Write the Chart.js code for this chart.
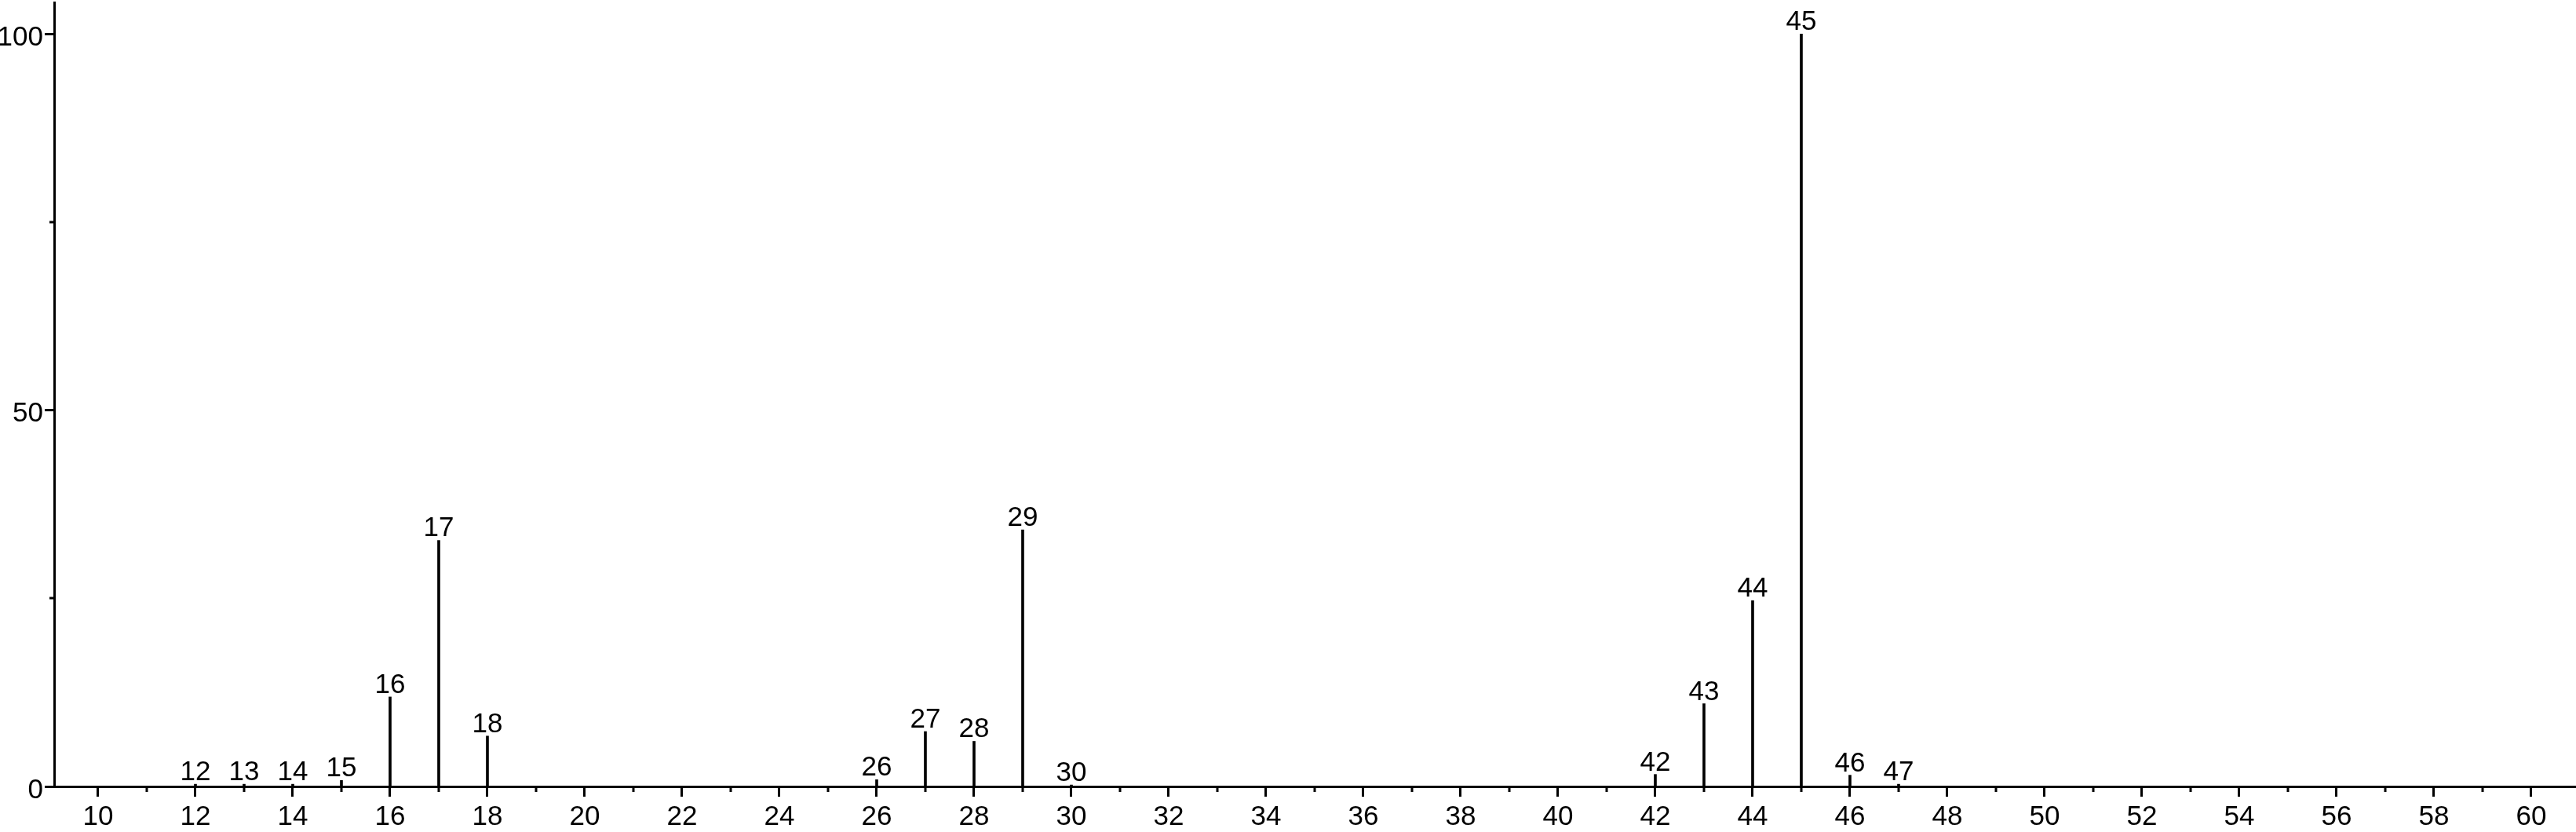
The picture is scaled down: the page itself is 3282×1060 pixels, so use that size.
<!DOCTYPE html>
<html>
<head>
<meta charset="utf-8">
<script src="https://cdn.jsdelivr.net/npm/chart.js@4"></script>
<style>
  html, body { margin: 0; padding: 0; background: #fff; }
  canvas { display: block; }
</style>
</head>
<body>
<canvas id="spectrum" width="3282" height="1060"></canvas>
<script>
// m/z values and relative intensities
const mz = [12, 13, 14, 15, 16, 17, 18, 26, 27, 28, 29, 30, 42, 43, 44, 45, 46, 47];
const intensity = [0.3, 0.3, 0.3, 0.8, 11.9, 32.7, 6.7, 0.9, 7.3, 6.0, 34.1, 0.2, 1.6, 11.0, 24.7, 100, 1.5, 0.3];

// small unlabelled ticks
const xMinorTicks = [11, 13, 15, 17, 19, 21, 23, 25, 27, 29, 31, 33, 35, 37, 39, 41, 43, 45, 47, 49, 51, 53, 55, 57, 59];
const yMinorTicks = [25, 75];

const fontFamily = '"Liberation Sans", Arial, Helvetica, sans-serif';

const minorTicks = {
  id: 'minorTicks',
  afterDraw(chart) {
    const ctx = chart.ctx;
    const x = chart.scales.x;
    const y = chart.scales.y;
    ctx.save();
    ctx.strokeStyle = '#000';
    ctx.lineWidth = 3;
    ctx.beginPath();
    xMinorTicks.forEach(v => {
      const px = Math.round(x.getPixelForValue(v));
      ctx.moveTo(px, y.bottom);
      ctx.lineTo(px, y.bottom + 7);
    });
    yMinorTicks.forEach(v => {
      const py = Math.round(y.getPixelForValue(v));
      ctx.moveTo(x.left, py);
      ctx.lineTo(x.left - 6, py);
    });
    ctx.stroke();
    ctx.restore();
  }
};

const peakLabels = {
  id: 'peakLabels',
  afterDatasetsDraw(chart) {
    const ctx = chart.ctx;
    const meta = chart.getDatasetMeta(0);
    ctx.save();
    ctx.fillStyle = '#000';
    ctx.font = '35px ' + fontFamily;
    ctx.textAlign = 'center';
    ctx.textBaseline = 'alphabetic';
    meta.data.forEach((bar, i) => {
      ctx.fillText(String(mz[i]), bar.x, bar.y - 5);
    });
    ctx.restore();
  }
};

new Chart(document.getElementById('spectrum'), {
  type: 'bar',
  data: {
    datasets: [{
      data: mz.map((m, i) => ({ x: m, y: intensity[i] })),
      backgroundColor: '#000',
      borderWidth: 0,
      barThickness: 3
    }]
  },
  options: {
    responsive: false,
    animation: false,
    layout: { padding: { top: 3, left: 0, right: 0, bottom: 0 } },
    plugins: {
      legend: { display: false },
      tooltip: { enabled: false }
    },
    scales: {
      x: {
        type: 'linear',
        min: 9.097,
        max: 60.92,
        offset: false,
        afterFit(scale) { scale.height = 58; },
        border: { display: true, color: '#000', width: 3 },
        grid: { display: true, offset: false, drawOnChartArea: false, color: '#000', tickLength: 13, tickWidth: 3 },
        ticks: {
          stepSize: 2,
          includeBounds: false,
          autoSkip: false,
          maxRotation: 0,
          padding: 5,
          color: '#000',
          font: { family: fontFamily, size: 35 }
        }
      },
      y: {
        min: 0,
        max: 104.2,
        afterFit(scale) {
          scale.width = 69;
          scale.paddingTop = 0;
          scale.paddingBottom = 0;
        },
        border: { display: true, color: '#000', width: 3 },
        grid: { display: true, offset: false, drawOnChartArea: false, color: '#000', tickLength: 12, tickWidth: 3 },
        ticks: {
          stepSize: 50,
          includeBounds: false,
          padding: 2,
          labelOffset: 5,
          color: '#000',
          font: { family: fontFamily, size: 35 }
        }
      }
    }
  },
  plugins: [minorTicks, peakLabels]
});
</script>
</body>
</html>
